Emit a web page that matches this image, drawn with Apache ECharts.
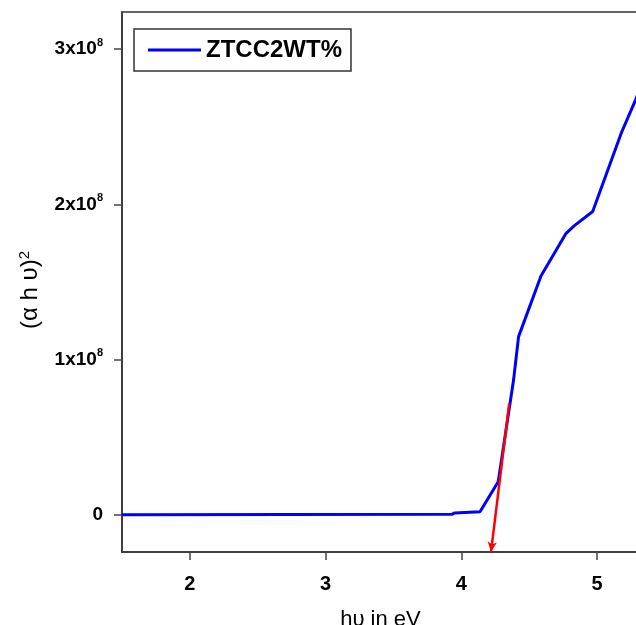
<!DOCTYPE html>
<html>
<head>
<meta charset="utf-8">
<script src="https://cdn.jsdelivr.net/npm/echarts@6/dist/echarts.min.js"></script>
<style>html,body{margin:0;padding:0;background:#fff;}#c{width:636px;height:625px;}</style>
</head>
<body>
<div id="c"></div>
<script>
// photon energy (eV)
const energy = [1.5, 3.93, 3.95, 4.137, 4.271, 4.384, 4.421, 4.586, 4.771, 4.832, 4.967, 5.177, 5.283, 5.35];
// (alpha h nu)^2
const ahv2 = [0, 0.003e8, 0.012e8, 0.019e8, 0.213e8, 0.868e8, 1.148e8, 1.539e8, 1.814e8, 1.863e8, 1.954e8, 2.459e8, 2.674e8, 2.83e8];
// tangent (extrapolation) line: start and end points
const tangentX = [4.352, 4.218];
const tangentY = [0.718e8, -0.239e8];
const xTicks = [2, 3, 4, 5];
const yTicks = [0, 1e8, 2e8, 3e8];
const seriesName = 'ZTCC2WT%';

const chart = echarts.init(document.getElementById('c'));
const font = 'Liberation Sans, Arial, sans-serif';
chart.setOption({
  animation: false,
  backgroundColor: '#fff',
  grid: {left: 122, right: -3, top: 12, bottom: 73, outerBoundsMode: 'none', containLabel: false,
    show: true, borderColor: '#333', borderWidth: 1.5, backgroundColor: 'transparent'},
  legend: {
    left: 134, top: 29,
    data: [{name: seriesName, icon: 'rect'}],
    itemWidth: 53, itemHeight: 3, itemGap: 5,
    borderColor: '#333', borderWidth: 1.5,
    padding: [9, 9, 9, 14],
    textStyle: {fontFamily: font, fontWeight: 'bold', fontSize: 24, color: '#000'}
  },
  xAxis: {
    type: 'value', min: 1.5, max: 5.308,
    name: 'h\u03c5 in eV', nameLocation: 'middle', nameGap: 57,
    nameTextStyle: {fontFamily: font, fontSize: 22, color: '#000'},
    axisLine: {show: true, onZero: false, lineStyle: {color: '#333', width: 1.5}},
    axisTick: {show: true, length: 8, lineStyle: {color: '#444', width: 1.5}, customValues: xTicks},
    axisLabel: {margin: 22, fontFamily: font, fontWeight: 'bold', fontSize: 20, color: '#000', customValues: xTicks},
    splitLine: {show: false}
  },
  yAxis: {
    type: 'value', min: -0.24e8, max: 3.24e8,
    name: '(\u03b1 h \u03c5){s|2}', nameLocation: 'middle', nameRotate: 90, nameGap: 78,
    nameTextStyle: {fontFamily: font, fontSize: 24, color: '#000', padding: [0, 16, 0, 0],
      rich: {s: {fontFamily: font, fontSize: 15, color: '#000', verticalAlign: 'top', padding: [0, 0, 12, 0]}}},
    axisLine: {show: true, onZero: false, lineStyle: {color: '#333', width: 1.5}},
    axisTick: {show: true, length: 8, lineStyle: {color: '#444', width: 1.5}, customValues: yTicks},
    axisLabel: {
      margin: 19, customValues: yTicks,
      formatter: function (v) {
        if (v === 0) return '{a|0}';
        return '{a|' + Math.round(v / 1e8) + 'x10}{s|8}';
      },
      rich: {
        a: {fontFamily: font, fontWeight: 'bold', fontSize: 19, color: '#000'},
        s: {fontFamily: font, fontWeight: 'bold', fontSize: 11, color: '#000', verticalAlign: 'top', padding: [0, 0, 13, 0]}
      }
    },
    splitLine: {show: false}
  },
  series: [
    {
      name: seriesName, type: 'line', symbol: 'none',
      data: energy.map((x, i) => [x, ahv2[i]]),
      lineStyle: {color: '#0000ff', width: 3},
      itemStyle: {color: '#0000ff'},
      clip: true, z: 2
    },
    {
      name: 'tangent', type: 'line', data: [], z: 3,
      markLine: {
        silent: true, symbol: ['none', 'arrow'], symbolSize: [7, 10],
        label: {show: false},
        lineStyle: {color: '#ff0000', width: 2.5, type: 'solid'},
        data: [[{coord: [tangentX[0], tangentY[0]]}, {coord: [tangentX[1], tangentY[1]]}]]
      }
    }
  ]
});
</script>
</body>
</html>
